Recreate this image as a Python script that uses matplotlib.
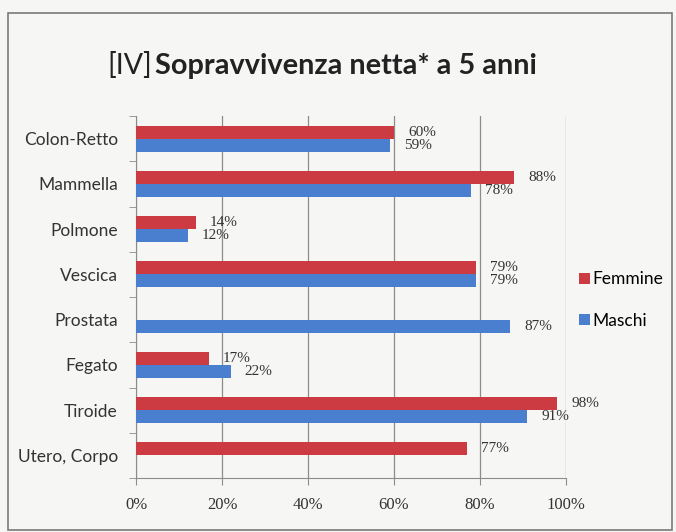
import numpy as np
import matplotlib
matplotlib.use("Agg")
import matplotlib.pyplot as plt
from matplotlib.patches import Rectangle

categories = ["Colon-Retto", "Mammella", "Polmone", "Vescica",
              "Prostata", "Fegato", "Tiroide", "Utero, Corpo"]
femmine = [60, 88, 14, 79, np.nan, 17, 98, 77]
maschi = [59, 78, 12, 79, 87, 22, 91, np.nan]
xticks = [0, 20, 40, 60, 80, 100]

RED = "#cc3a42"
BLUE = "#4a7fcf"
BG = "#f6f6f4"
GRID = "#8c8c8c"

fig = plt.figure(figsize=(6.76, 5.32), dpi=100, facecolor=BG)
# outer chart border
fig.patches.append(Rectangle((8 / 676, 2 / 532), 664 / 676, 517 / 532,
                             transform=fig.transFigure, fill=False,
                             edgecolor="#7a7a7a", linewidth=1.2))

ax = fig.add_axes([136 / 676, 1 - 478 / 532, 430 / 676, 362 / 532])
ax.set_facecolor(BG)

n = len(categories)
y = np.arange(n)
h = 0.29

ax.barh(y - h / 2, np.nan_to_num(femmine), height=h, color=RED, zorder=3,
        label="Femmine")
ax.barh(y + h / 2, np.nan_to_num(maschi), height=h, color=BLUE, zorder=3,
        label="Maschi")

for i in range(n):
    for vals, dy in ((femmine, -h / 2), (maschi, h / 2)):
        v = vals[i]
        if np.isnan(v):
            continue
        ax.annotate(f"{v:.0f}%", (v, y[i] + dy), xytext=(10, 0),
                    textcoords="offset points", va="center", ha="left",
                    family="Liberation Serif", fontsize=11, color="#333333")

ax.set_xlim(0, 100)
ax.set_ylim(n - 0.5, -0.5)
ax.set_xticks(xticks)
ax.set_xticklabels([f"{t}%" for t in xticks], family="Liberation Serif",
                   fontsize=12, color="#333333")
ax.set_yticks(y)
ax.set_yticklabels(categories, family="Lato", fontsize=12.5, color="#333333")
ax.set_yticks(np.arange(n + 1) - 0.5, minor=True)
ax.tick_params(axis="y", which="major", length=0, pad=13)
ax.tick_params(axis="y", which="minor", length=5, color=GRID)
ax.tick_params(axis="x", length=5, color=GRID, pad=9)

ax.grid(axis="x", color=GRID, linewidth=0.9, zorder=0)
for s in ("top", "right"):
    ax.spines[s].set_visible(False)
for s in ("left", "bottom"):
    ax.spines[s].set_color(GRID)

fig.text(107 / 676, 1 - 66 / 532, "[IV]", fontsize=20.5, family="Lato",
         va="center", ha="left", color="#222222")
fig.text(155 / 676, 1 - 66 / 532, "Sopravvivenza netta* a 5 anni",
         fontsize=20.8, family="Lato", weight="bold", va="center",
         ha="left", color="#222222")

fig.legend(loc="center left", bbox_to_anchor=(563 / 676, 1 - 300 / 532),
           frameon=False, handlelength=0.65, handleheight=0.65,
           handletextpad=0.15, labelspacing=1.45,
           prop={"family": "Lato", "size": 12.5})

fig.savefig("out.png", dpi=100, facecolor=BG)
